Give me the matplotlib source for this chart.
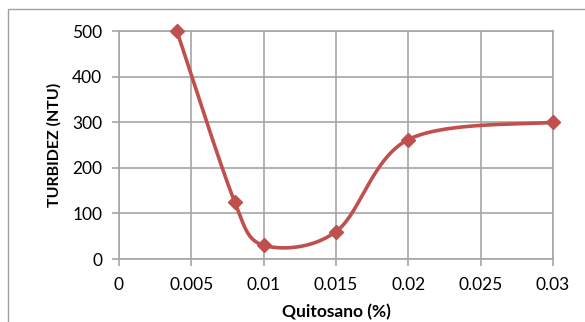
import numpy as np
import matplotlib
matplotlib.use("Agg")
import matplotlib.pyplot as plt
from matplotlib.patches import Rectangle

quitosano = [0.004, 0.008, 0.01, 0.015, 0.02, 0.03]
turbidez = [500, 125, 30, 60, 262, 300]

x_ticks = [0, 0.005, 0.01, 0.015, 0.02, 0.025, 0.03]
x_tick_labels = ["0", "0.005", "0.01", "0.015", "0.02", "0.025", "0.03"]
y_ticks = [0, 100, 200, 300, 400, 500]

RED = "#C0504D"
GRID = "#A6A6A6"


def smooth_curve(ax, xs, ys, n=80):
    # bezier smoothing done in screen space, control arms capped at half the segment
    trans = ax.transData
    p = trans.transform(np.column_stack([xs, ys]).astype(float))
    out = []
    for i in range(len(p) - 1):
        p0 = p[i - 1] if i > 0 else p[i]
        p1 = p[i]
        p2 = p[i + 1]
        p3 = p[i + 2] if i + 2 < len(p) else p[i + 1]
        d12 = np.hypot(*(p2 - p1))
        d02 = np.hypot(*(p2 - p0))
        d13 = np.hypot(*(p3 - p1))
        f1 = 1 / 6.0
        f2 = 1 / 6.0
        if d02 / 6.0 > d12 / 2.0:
            f1 = d12 / 2.0 / d02
        if d13 / 6.0 > d12 / 2.0:
            f2 = d12 / 2.0 / d13
        c1 = p1 + f1 * (p2 - p0)
        c2 = p2 - f2 * (p3 - p1)
        t = np.linspace(0, 1, n)[:, None]
        seg = ((1 - t) ** 3) * p1 + 3 * ((1 - t) ** 2) * t * c1 + 3 * (1 - t) * t ** 2 * c2 + t ** 3 * p2
        out.append(seg if i == 0 else seg[1:])
    out = trans.inverted().transform(np.vstack(out))
    return out[:, 0], out[:, 1]


plt.rcParams['font.family'] = ['Lato', 'DejaVu Sans']

fig = plt.figure(figsize=(5.85, 3.22), dpi=100)
fig.patches.append(Rectangle((8 / 585, -0.1), 1.2, 1 - 9 / 322 + 0.1, transform=fig.transFigure,
                             fill=False, edgecolor="#A0A0A0", linewidth=1.0))

ax = fig.add_axes([119 / 585, 1 - 259 / 322, (553 - 119) / 585, (259 - 31) / 322])
ax.set_xlim(0, 0.03)
ax.set_ylim(0, 500)

sx, sy = smooth_curve(ax, quitosano, turbidez)
ax.plot(sx, sy, color=RED, linewidth=2.6, solid_capstyle="round", zorder=3, clip_on=False)
ax.plot(quitosano, turbidez, linestyle="none", marker="D", markersize=7,
        color=RED, markeredgecolor=RED, zorder=4, clip_on=False)

ax.set_xticks(x_ticks)
ax.set_xticklabels(x_tick_labels)
ax.set_yticks(y_ticks)

ax.grid(True, color=GRID, linewidth=1.2)
ax.set_axisbelow(True)
for s in ax.spines.values():
    s.set_color(GRID)
    s.set_linewidth(1.2)
ax.tick_params(axis="both", direction="out", length=5, width=1.2, color=GRID,
               labelsize=12.5, labelcolor="black")
ax.tick_params(axis="x", pad=8)
ax.tick_params(axis="y", pad=7)

ax.set_xlabel("Quitosano (%)", fontsize=12.5, fontweight="bold", labelpad=8)
ax.set_ylabel("TURBIDEZ (NTU)", fontsize=11.5, fontweight="bold", labelpad=8)

fig.savefig("out.png", dpi=100)
